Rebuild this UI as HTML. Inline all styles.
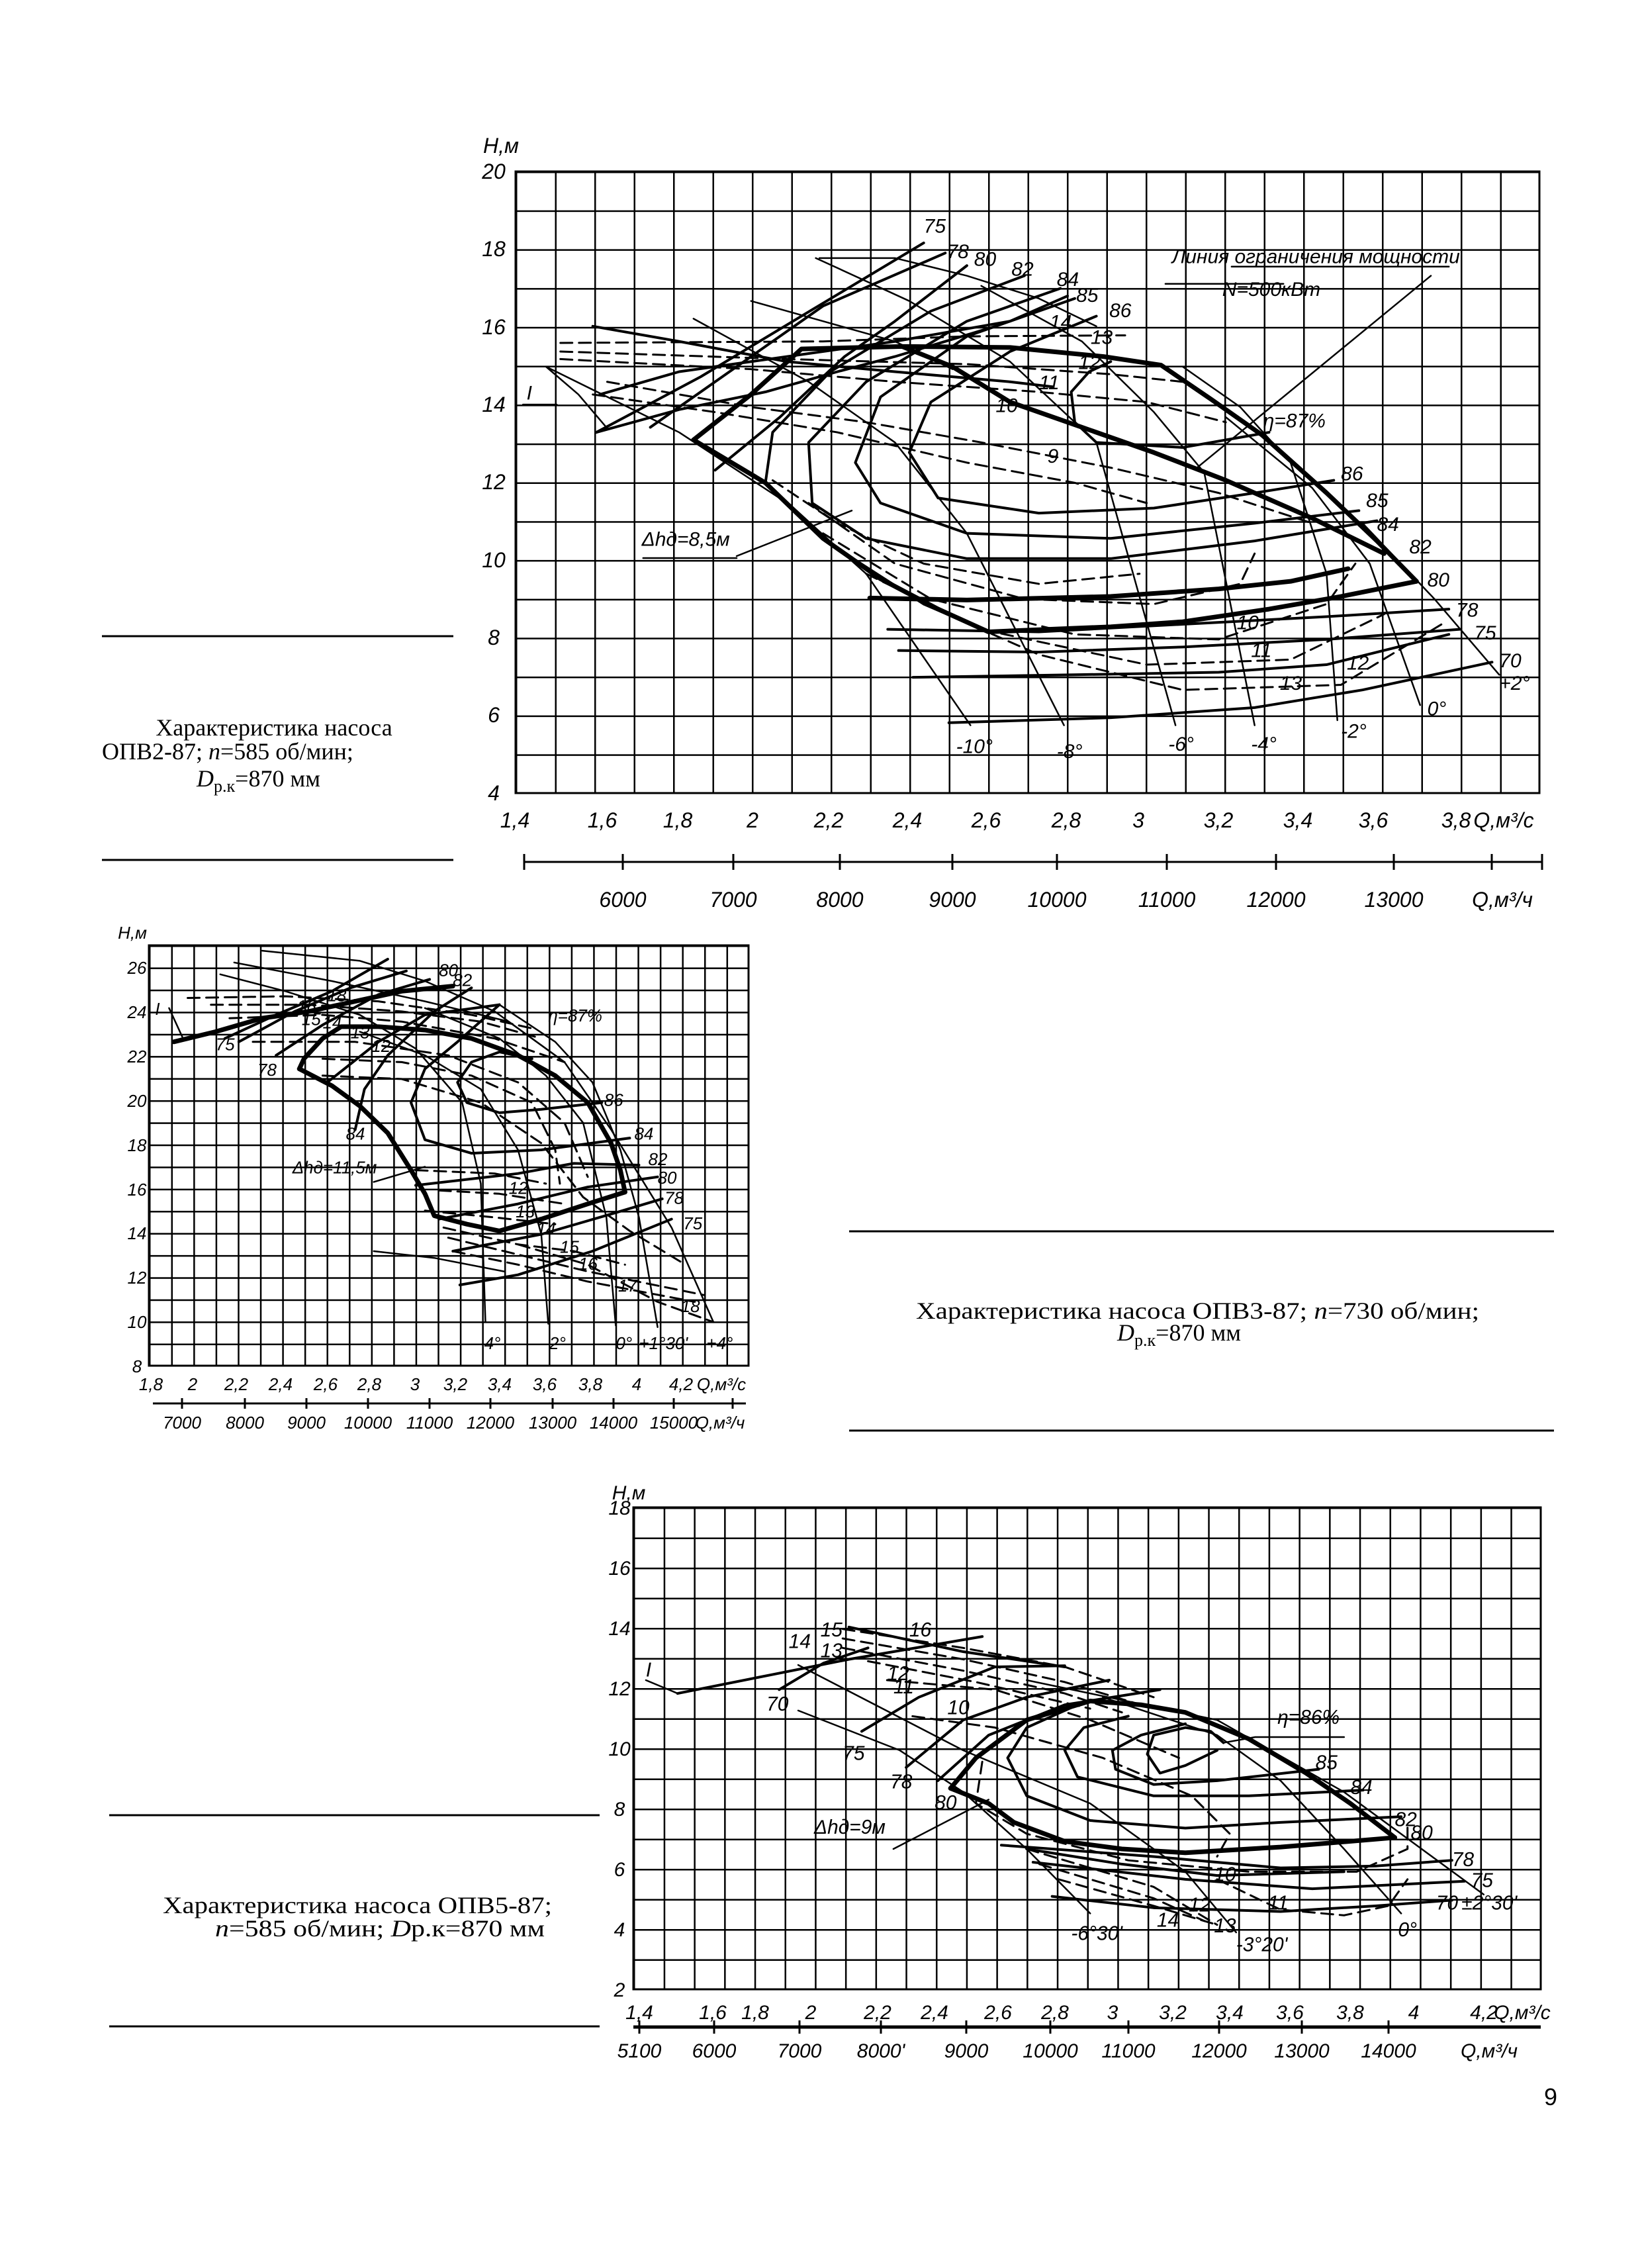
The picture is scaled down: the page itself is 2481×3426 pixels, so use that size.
<!DOCTYPE html>
<html><head><meta charset="utf-8"><style>
html,body{margin:0;padding:0;background:#fff}
svg{display:block}
.l{font-family:"Liberation Sans Narrow","Liberation Sans",sans-serif;font-style:italic;fill:#000}
.c{font-family:"Liberation Serif",serif;fill:#000;font-size:36px}
.g path,.g polyline{vector-effect:non-scaling-stroke;fill:none;stroke:#000;stroke-linejoin:round;stroke-linecap:round}
.t{stroke-width:2.5px}.m{stroke-width:4px}.k{stroke-width:7px}.d{stroke-width:3px;stroke-dasharray:18 10}
</style></head><body>
<svg width="2481" height="3426" viewBox="0 0 2481 3426" xmlns="http://www.w3.org/2000/svg">
<defs>
<pattern id="g1" x="779" y="259" width="59.5" height="58.69" patternUnits="userSpaceOnUse"><path d="M0 0H59.5M0 0V58.69" stroke="#000" stroke-width="5" fill="none"/></pattern>
<pattern id="g2" x="225" y="1428" width="33.56" height="33.42" patternUnits="userSpaceOnUse"><path d="M0 0H33.56M0 0V33.42" stroke="#000" stroke-width="5" fill="none"/></pattern>
<pattern id="g3" x="957" y="2277" width="45.7" height="45.5" patternUnits="userSpaceOnUse"><path d="M0 0H45.7M0 0V45.5" stroke="#000" stroke-width="5" fill="none"/></pattern>
</defs>
<rect width="2481" height="3426" fill="#fff"/>

<!-- ===== CHART 1 ===== -->
<rect x="779" y="259" width="1547" height="939" fill="url(#g1)"/>
<rect x="779" y="259" width="1547" height="939" fill="none" stroke="#000" stroke-width="3"/>
<g class="l" font-size="32" text-anchor="middle">
<text x="757" y="231">H,м</text>
<text x="746" y="270">20</text><text x="746" y="387">18</text><text x="746" y="505">16</text><text x="746" y="622">14</text><text x="746" y="739">12</text><text x="746" y="857">10</text><text x="746" y="974">8</text><text x="746" y="1091">6</text><text x="746" y="1209">4</text>
<text x="778" y="1250">1,4</text><text x="910" y="1250">1,6</text><text x="1024" y="1250">1,8</text><text x="1137" y="1250">2</text><text x="1252" y="1250">2,2</text><text x="1371" y="1250">2,4</text><text x="1490" y="1250">2,6</text><text x="1611" y="1250">2,8</text><text x="1720" y="1250">3</text><text x="1841" y="1250">3,2</text><text x="1961" y="1250">3,4</text><text x="2075" y="1250">3,6</text><text x="2200" y="1250">3,8</text><text x="2272" y="1250">Q,м³/с</text>
<text x="941" y="1370">6000</text><text x="1108" y="1370">7000</text><text x="1269" y="1370">8000</text><text x="1439" y="1370">9000</text><text x="1597" y="1370">10000</text><text x="1763" y="1370">11000</text><text x="1928" y="1370">12000</text><text x="2106" y="1370">13000</text><text x="2270" y="1370">Q,м³/ч</text>
</g>
<path d="M792 1302H2330M792 1290V1314M941 1290V1314M1108 1290V1314M1269 1290V1314M1439 1290V1314M1597 1290V1314M1763 1290V1314M1928 1290V1314M2106 1290V1314M2254 1290V1314M2330 1290V1314" stroke="#000" stroke-width="3" fill="none"/>
<g class="g" transform="matrix(1.087,0,0,0.763,700,180)">
<path class="k" d="M320 635L400 545L470 455L610 450L760 452L890 470L970 487L1040 555L1110 625L1200 740L1270 835L1325 915"/>
<path class="k" d="M320 635L420 720L500 830L580 910L660 970L730 1015L900 1005L1000 995L1120 970L1220 945L1325 915"/>
<path class="k" d="M610 450L680 490L760 560L870 615L960 660L1060 715L1180 790L1280 860"/>
<path class="k" d="M565 948L700 952L900 945L1050 930L1150 915L1230 890"/>
<path class="m" d="M185 620L330 510L470 390L640 245"/>
<path class="m" d="M260 610L370 500L500 370L670 265"/>
<path class="m" d="M350 695L440 590L530 470L600 400L700 290"/>
<path class="m" d="M780 310L650 380L510 500L430 620L420 720L520 850L640 960L730 1015"/>
<path class="m" d="M830 335L700 400L560 520L480 640L485 760L560 830L700 870L900 870L1100 835L1270 795"/>
<path class="m" d="M850 355L700 430L580 550L545 680L580 760L700 820L900 830L1100 800L1245 775"/>
<path class="m" d="M880 390L760 460L650 560L620 660L660 750L800 780L960 770L1100 740L1210 715"/>
<path class="m" d="M1120 620L1000 650L880 640L850 600L845 540L870 500L900 480"/>
<path class="m" d="M590 1010L800 1015L1000 1000L1200 985L1370 970"/>
<path class="m" d="M605 1052L800 1055L1000 1045L1200 1030L1385 1010"/>
<path class="m" d="M625 1105L850 1100L1050 1095L1200 1080L1370 1020"/>
<path class="m" d="M675 1195L900 1185L1100 1165L1250 1130L1430 1075"/>
<path class="m" d="M190 545L300 500L450 470L600 440L760 400L840 350"/>
<path class="m" d="M185 620L300 575L420 540L520 500L600 470L740 410"/>
<path class="m" d="M180 410L300 440L450 480L600 500L760 520L820 530"/>
<path class="t" d="M495 275L600 275L700 310L800 355L880 410"/>
<path class="t" d="M400 360L500 400L600 440L680 495"/>
<path class="t" d="M115 490L300 620L450 760L560 900L705 1200"/>
<path class="t" d="M320 395L480 520L600 640L700 820L835 1200"/>
<path class="t" d="M490 275L620 360L760 480L880 640L990 1200"/>
<path class="t" d="M720 330L860 440L960 580L1030 700L1100 1200"/>
<path class="t" d="M1000 490L1080 570L1150 680L1200 900L1215 1190"/>
<path class="t" d="M1060 590L1180 730L1260 880L1330 1160"/>
<path class="t" d="M1250 800L1350 950L1440 1100"/>
<path class="t" d="M115 490L160 545L200 612"/>
<path class="t" d="M1345 310L1020 690"/>
<path class="t" d="M380 865L540 775"/>
<path class="t" d="M1068 292H1370M976 326H1140M83 565H130M250 869H380"/>
<path class="d" d="M135 443L500 440L700 430L920 428"/>
<path class="d" d="M135 460L450 475L700 485L900 505L1000 520"/>
<path class="d" d="M135 475L400 495L600 520L800 540L950 560L1060 600"/>
<path class="d" d="M180 545L350 580L520 620L700 680L850 720L950 760"/>
<path class="d" d="M200 520L400 570L560 600L720 640L900 690L1050 740L1180 800"/>
<path class="d" d="M430 715L520 800L640 880L800 920L940 900"/>
<path class="d" d="M480 760L600 880L780 950L960 960L1080 920L1100 860"/>
<path class="d" d="M500 820L650 950L850 1020L1050 1030L1200 960L1240 880"/>
<path class="d" d="M560 900L720 1010L950 1080L1150 1070L1280 980"/>
<path class="d" d="M640 960L800 1060L1000 1130L1220 1120L1360 1000"/>
</g>
<g class="l" font-size="30" transform="matrix(1.087,0,0,0.763,700,180)">
<text transform="matrix(0.92,0,0,1.31,640,225)">75</text>
<text transform="matrix(0.92,0,0,1.31,672,275)">78</text>
<text transform="matrix(0.92,0,0,1.31,710,290)">80</text>
<text transform="matrix(0.92,0,0,1.31,762,310)">82</text>
<text transform="matrix(0.92,0,0,1.31,825,330)">84</text>
<text transform="matrix(0.92,0,0,1.31,852,362)">85</text>
<text transform="matrix(0.92,0,0,1.31,898,392)">86</text>
<text transform="matrix(0.92,0,0,1.31,815,415)">14</text>
<text transform="matrix(0.92,0,0,1.31,872,445)">13</text>
<text transform="matrix(0.92,0,0,1.31,855,495)">12</text>
<text transform="matrix(0.92,0,0,1.31,800,535)">11</text>
<text transform="matrix(0.92,0,0,1.31,740,580)">10</text>
<text transform="matrix(0.92,0,0,1.31,812,680)">9</text>
<text transform="matrix(0.92,0,0,1.31,1075,1010)">10</text>
<text transform="matrix(0.92,0,0,1.31,1095,1065)">11</text>
<text transform="matrix(0.92,0,0,1.31,1228,1090)">12</text>
<text transform="matrix(0.92,0,0,1.31,1135,1130)">13</text>
<text transform="matrix(0.92,0,0,1.31,1220,715)">86</text>
<text transform="matrix(0.92,0,0,1.31,1255,768)">85</text>
<text transform="matrix(0.92,0,0,1.31,1270,815)">84</text>
<text transform="matrix(0.92,0,0,1.31,1315,860)">82</text>
<text transform="matrix(0.92,0,0,1.31,1340,925)">80</text>
<text transform="matrix(0.92,0,0,1.31,1380,985)">78</text>
<text transform="matrix(0.92,0,0,1.31,1405,1030)">75</text>
<text transform="matrix(0.92,0,0,1.31,1440,1085)">70</text>
<text transform="matrix(0.92,0,0,1.31,1440,1130)">+2°</text>
<text transform="matrix(0.92,0,0,1.31,1340,1180)">0°</text>
<text transform="matrix(0.92,0,0,1.31,1220,1225)">-2°</text>
<text transform="matrix(0.92,0,0,1.31,1095,1250)">-4°</text>
<text transform="matrix(0.92,0,0,1.31,980,1250)">-6°</text>
<text transform="matrix(0.92,0,0,1.31,825,1265)">-8°</text>
<text transform="matrix(0.92,0,0,1.31,685,1255)">-10°</text>
<text transform="matrix(0.92,0,0,1.31,88,555)">I</text>
<text transform="matrix(0.92,0,0,1.31,1112,610)">η=87%</text>
<text transform="matrix(0.92,0,0,1.31,248,845)">Δhд=8,5м</text>
<text transform="matrix(0.92,0,0,1.31,985,285)">Линия ограничения мощности</text>
<text transform="matrix(0.92,0,0,1.31,1055,350)">N=500кВт</text>
</g>

<!-- captions -->
<path d="M154 961H685M154 1299H685" stroke="#000" stroke-width="3"/>
<text class="c" x="414" y="1111" text-anchor="middle">Характеристика насоса</text>
<text class="c" x="154" y="1147">ОПВ2-87;    <tspan font-style="italic">n</tspan>=585    об/мин;</text>
<text class="c" x="297" y="1188"><tspan font-style="italic">D</tspan><tspan font-size="26" dy="8">р.к</tspan><tspan dy="-8">=870 мм</tspan></text>

<!-- ===== CHART 2 ===== -->
<rect x="225" y="1428" width="906" height="635" fill="url(#g2)"/>
<rect x="225" y="1428" width="906" height="635" fill="none" stroke="#000" stroke-width="3"/>
<g class="l" font-size="26" text-anchor="middle">
<text x="200" y="1418">H,м</text>
<text x="207" y="1471">26</text><text x="207" y="1538">24</text><text x="207" y="1605">22</text><text x="207" y="1672">20</text><text x="207" y="1739">18</text><text x="207" y="1806">16</text><text x="207" y="1872">14</text><text x="207" y="1939">12</text><text x="207" y="2006">10</text><text x="207" y="2073">8</text>
<text x="228" y="2100">1,8</text><text x="291" y="2100">2</text><text x="357" y="2100">2,2</text><text x="424" y="2100">2,4</text><text x="492" y="2100">2,6</text><text x="558" y="2100">2,8</text><text x="627" y="2100">3</text><text x="688" y="2100">3,2</text><text x="755" y="2100">3,4</text><text x="823" y="2100">3,6</text><text x="892" y="2100">3,8</text><text x="962" y="2100">4</text><text x="1029" y="2100">4,2</text><text x="1090" y="2100">Q,м³/с</text>
<text x="275" y="2158">7000</text><text x="370" y="2158">8000</text><text x="463" y="2158">9000</text><text x="556" y="2158">10000</text><text x="649" y="2158">11000</text><text x="741" y="2158">12000</text><text x="835" y="2158">13000</text><text x="927" y="2158">14000</text><text x="1018" y="2158">15000</text><text x="1088" y="2158">Q,м³/ч</text>
</g>
<path d="M231 2120H1127M275 2112V2128M370 2112V2128M463 2112V2128M556 2112V2128M649 2112V2128M741 2112V2128M835 2112V2128M927 2112V2128M1018 2112V2128M1107 2112V2128" stroke="#000" stroke-width="3" fill="none"/>
<g class="g" transform="matrix(0.703,0,0,0.51,150,1380)">
<path class="k" d="M430 460L440 430L480 370L520 335L600 335L700 345L800 370L900 420L980 480L1050 560L1100 680L1120 760L1130 825"/>
<path class="k" d="M430 460L500 510L560 570L620 650L670 760L700 830L720 895L790 920L860 940L950 905L1050 860L1130 825"/>
<path class="k" d="M160 380L250 350L350 310L450 290L550 260L650 230L760 215"/>
<path class="m" d="M1080 560L950 580L860 590L790 560L770 500L800 440L860 410L930 430"/>
<path class="m" d="M1140 665L950 700L800 710L700 670L670 560L700 460L770 380L860 270"/>
<path class="m" d="M550 640L570 520L620 420L720 290L800 220"/>
<path class="m" d="M680 805L900 770L1020 740L1160 745"/>
<path class="m" d="M730 905L900 860L1050 810L1200 780"/>
<path class="m" d="M760 1000L950 950L1100 890L1210 845"/>
<path class="m" d="M775 1100L900 1070L1060 1000L1230 905"/>
<path class="m" d="M270 370L380 300L500 230L620 135"/>
<path class="m" d="M300 380L420 290L540 220L660 170"/>
<path class="m" d="M380 420L480 330L600 240L710 195"/>
<path class="m" d="M490 500L600 380L700 300L860 270"/>
<path class="t" d="M350 110L560 140L700 200L850 290L1000 440L1100 640L1230 930L1320 1210"/>
<path class="t" d="M290 145L500 200L700 260L880 320L1000 440"/>
<path class="t" d="M150 280L180 370"/>
<path class="t" d="M260 180L400 230L560 300L680 400L780 560L820 800L830 1210"/>
<path class="t" d="M560 350L700 420L820 520L900 700L950 950L965 1215"/>
<path class="t" d="M700 280L860 370L960 480L1040 620L1090 900L1110 1220"/>
<path class="t" d="M860 270L980 380L1060 500L1120 700L1160 900L1200 1225"/>
<path class="t" d="M590 1000L720 1020L870 1060"/>
<path class="t" d="M590 795L700 750"/>
<path class="d" d="M190 250L400 245L600 260L800 300L930 340"/>
<path class="d" d="M240 270L450 270L650 290L820 320L950 370"/>
<path class="d" d="M280 310L480 300L650 320L850 370L1000 440"/>
<path class="d" d="M330 380L550 380L750 420L900 500L1000 620L1050 780"/>
<path class="d" d="M480 430L650 440L800 480L930 560L980 700L990 800"/>
<path class="d" d="M480 480L650 490L820 560L950 680L1040 840L1140 940L1260 1040"/>
<path class="d" d="M680 760L850 770L960 800"/>
<path class="d" d="M730 820L860 830L1000 860"/>
<path class="d" d="M700 880L850 900L980 920"/>
<path class="d" d="M740 930L900 980L1020 1000L1130 1040"/>
<path class="d" d="M750 960L900 1010L1050 1060L1300 1130"/>
<path class="d" d="M760 1000L900 1040L1050 1090L1280 1150"/>
<path class="d" d="M900 980L1050 1040L1200 1150L1320 1210"/>
</g>
<g class="l" font-size="26" transform="matrix(0.703,0,0,0.51,150,1380)">
<text transform="matrix(1.42,0,0,1.96,730,185)">80</text>
<text transform="matrix(1.42,0,0,1.96,760,215)">82</text>
<text transform="matrix(1.42,0,0,1.96,490,260)">18</text>
<text transform="matrix(1.42,0,0,1.96,425,292)">16</text>
<text transform="matrix(1.42,0,0,1.96,435,330)">15</text>
<text transform="matrix(1.42,0,0,1.96,480,340)">14</text>
<text transform="matrix(1.42,0,0,1.96,540,370)">13</text>
<text transform="matrix(1.42,0,0,1.96,585,410)">12</text>
<text transform="matrix(1.42,0,0,1.96,250,405)">75</text>
<text transform="matrix(1.42,0,0,1.96,340,480)">78</text>
<text transform="matrix(1.42,0,0,1.96,530,670)">84</text>
<text transform="matrix(1.42,0,0,1.96,120,300)">I</text>
<text transform="matrix(1.42,0,0,1.96,965,320)">η=87%</text>
<text transform="matrix(1.42,0,0,1.96,1085,570)">86</text>
<text transform="matrix(1.42,0,0,1.96,1150,670)">84</text>
<text transform="matrix(1.42,0,0,1.96,1180,745)">82</text>
<text transform="matrix(1.42,0,0,1.96,1200,800)">80</text>
<text transform="matrix(1.42,0,0,1.96,1215,860)">78</text>
<text transform="matrix(1.42,0,0,1.96,1255,935)">75</text>
<text transform="matrix(1.42,0,0,1.96,880,830)">12</text>
<text transform="matrix(1.42,0,0,1.96,895,900)">13</text>
<text transform="matrix(1.42,0,0,1.96,940,950)">14</text>
<text transform="matrix(1.42,0,0,1.96,990,1005)">15</text>
<text transform="matrix(1.42,0,0,1.96,1030,1055)">16</text>
<text transform="matrix(1.42,0,0,1.96,1115,1120)">17</text>
<text transform="matrix(1.42,0,0,1.96,1250,1180)">18</text>
<text transform="matrix(1.42,0,0,1.96,415,770)">Δhд=11,5м</text>
<text transform="matrix(1.42,0,0,1.96,815,1290)">-4°</text>
<text transform="matrix(1.42,0,0,1.96,955,1290)">-2°</text>
<text transform="matrix(1.42,0,0,1.96,1110,1290)">0°</text>
<text transform="matrix(1.42,0,0,1.96,1160,1290)">+1°30'</text>
<text transform="matrix(1.42,0,0,1.96,1305,1290)">+4°</text>
</g>
<path d="M1283 1860H2348M1283 2161H2348" stroke="#000" stroke-width="3"/>
<text class="c" x="1384" y="1992" textLength="851" lengthAdjust="spacingAndGlyphs">Характеристика насоса ОПВ3-87; <tspan font-style="italic">n</tspan>=730 об/мин;</text>
<text class="c" x="1688" y="2025"><tspan font-style="italic">D</tspan><tspan font-size="26" dy="8">р.к</tspan><tspan dy="-8">=870 мм</tspan></text>

<!-- ===== CHART 3 ===== -->
<rect x="957" y="2277" width="1371" height="728" fill="url(#g3)"/>
<rect x="957" y="2277" width="1371" height="728" fill="none" stroke="#000" stroke-width="3"/>
<g class="l" font-size="30" text-anchor="middle">
<text x="950" y="2265">H,м</text>
<text x="936" y="2288">18</text><text x="936" y="2379">16</text><text x="936" y="2470">14</text><text x="936" y="2561">12</text><text x="936" y="2652">10</text><text x="936" y="2743">8</text><text x="936" y="2834">6</text><text x="936" y="2925">4</text><text x="936" y="3016">2</text>
<text x="966" y="3050">1,4</text><text x="1077" y="3050">1,6</text><text x="1141" y="3050">1,8</text><text x="1225" y="3050">2</text><text x="1326" y="3050">2,2</text><text x="1412" y="3050">2,4</text><text x="1508" y="3050">2,6</text><text x="1594" y="3050">2,8</text><text x="1681" y="3050">3</text><text x="1772" y="3050">3,2</text><text x="1858" y="3050">3,4</text><text x="1949" y="3050">3,6</text><text x="2040" y="3050">3,8</text><text x="2136" y="3050">4</text><text x="2242" y="3050">4,2</text><text x="2300" y="3050">Q,м³/с</text>
<text x="966" y="3108">5100</text><text x="1079" y="3108">6000</text><text x="1208" y="3108">7000</text><text x="1331" y="3108">8000'</text><text x="1460" y="3108">9000</text><text x="1587" y="3108">10000</text><text x="1705" y="3108">11000</text><text x="1842" y="3108">12000</text><text x="1967" y="3108">13000</text><text x="2098" y="3108">14000</text><text x="2250" y="3108">Q,м³/ч</text>
</g>
<path d="M957 3062H2328" stroke="#000" stroke-width="5"/>
<path d="M966 3052V3072M1079 3052V3072M1208 3052V3072M1331 3052V3072M1460 3052V3072M1587 3052V3072M1705 3052V3072M1842 3052V3072M1967 3052V3072M2098 3052V3072" stroke="#000" stroke-width="3"/>
<g class="g" transform="matrix(0.959,0,0,0.573,880,2220)">
<path class="k" d="M580 840L620 760L700 660L800 610L880 620L950 640L1050 710L1140 800L1210 880L1280 970"/>
<path class="k" d="M580 840L640 880L680 930L760 980L850 1000L950 1010L1100 995L1280 970"/>
<path class="m" d="M1290 915L1100 930L950 945L800 925L700 860L670 760L700 680L780 620"/>
<path class="m" d="M1230 845L1050 860L900 860L780 810L760 740L790 680L860 650"/>
<path class="m" d="M1160 790L1000 820L900 830L840 790L835 740L880 700L950 670"/>
<path class="m" d="M1010 720L990 690L950 680L900 700L890 750L910 800L950 780L1000 740"/>
<path class="m" d="M150 590L300 540L420 500L630 440"/>
<path class="m" d="M310 580L380 510L450 470"/>
<path class="m" d="M440 690L530 600L650 520L760 517"/>
<path class="m" d="M510 785L600 660L700 600L830 555"/>
<path class="m" d="M560 820L640 700L760 620L910 580"/>
<path class="m" d="M660 990L900 1020L1100 1050L1250 1045L1370 1030"/>
<path class="m" d="M710 1035L950 1080L1150 1105L1390 1085"/>
<path class="m" d="M740 1125L900 1155L1100 1165L1250 1150L1370 1135"/>
<path class="m" d="M700 1000L850 1040L1000 1070L1200 1060"/>
<path class="m" d="M420 415L600 480L760 520"/>
<path class="t" d="M340 635L500 740L600 850L700 1000L800 1170"/>
<path class="t" d="M340 515L600 740L800 880L950 1060L1030 1220"/>
<path class="t" d="M820 600L1000 700L1100 820L1200 1000L1290 1170"/>
<path class="t" d="M700 555L1000 660L1200 850L1420 1120"/>
<path class="t" d="M100 555L150 590"/>
<path class="t" d="M490 1000L640 870"/>
<path class="t" d="M1010 720L1060 705L1200 705"/>
<path class="d" d="M410 420L600 470L760 520L900 600"/>
<path class="d" d="M410 445L600 500L760 560L880 620"/>
<path class="d" d="M410 470L600 530L760 590L850 640"/>
<path class="d" d="M450 505L620 560L800 630"/>
<path class="d" d="M480 555L650 580L800 660L940 760"/>
<path class="d" d="M520 650L650 680L820 760L960 860L1020 960L1000 1020"/>
<path class="d" d="M630 770L620 880L700 960L860 1030L1050 1060L1220 1060L1300 1000L1300 940"/>
<path class="d" d="M700 1000L900 1100L1000 1200"/>
<path class="d" d="M720 1040L900 1130L980 1190"/>
<path class="d" d="M750 1080L900 1150L1000 1200"/>
<path class="d" d="M1000 1080L1100 1160L1200 1175L1270 1150L1300 1080"/>
</g>
<g class="l" font-size="30" transform="matrix(0.959,0,0,0.573,880,2220)">
<text transform="matrix(1.04,0,0,1.75,375,440)">15</text>
<text transform="matrix(1.04,0,0,1.75,325,470)">14</text>
<text transform="matrix(1.04,0,0,1.75,375,495)">13</text>
<text transform="matrix(1.04,0,0,1.75,515,440)">16</text>
<text transform="matrix(1.04,0,0,1.75,480,555)">12</text>
<text transform="matrix(1.04,0,0,1.75,490,590)">11</text>
<text transform="matrix(1.04,0,0,1.75,575,645)">10</text>
<text transform="matrix(1.04,0,0,1.75,100,545)">I</text>
<text transform="matrix(1.04,0,0,1.75,290,635)">70</text>
<text transform="matrix(1.04,0,0,1.75,410,765)">75</text>
<text transform="matrix(1.04,0,0,1.75,485,840)">78</text>
<text transform="matrix(1.04,0,0,1.75,555,895)">80</text>
<text transform="matrix(1.04,0,0,1.75,1095,670)">η=86%</text>
<text transform="matrix(1.04,0,0,1.75,1155,790)">85</text>
<text transform="matrix(1.04,0,0,1.75,1210,855)">84</text>
<text transform="matrix(1.04,0,0,1.75,1280,940)">82</text>
<text transform="matrix(1.04,0,0,1.75,1305,975)">80</text>
<text transform="matrix(1.04,0,0,1.75,1370,1045)">78</text>
<text transform="matrix(1.04,0,0,1.75,1400,1100)">75</text>
<text transform="matrix(1.04,0,0,1.75,1345,1160)">70</text>
<text transform="matrix(1.04,0,0,1.75,1385,1160)">±2°30'</text>
<text transform="matrix(1.04,0,0,1.75,1285,1230)">0°</text>
<text transform="matrix(1.04,0,0,1.75,1030,1270)">-3°20'</text>
<text transform="matrix(1.04,0,0,1.75,770,1240)">-6°30'</text>
<text transform="matrix(1.04,0,0,1.75,995,1085)">10</text>
<text transform="matrix(1.04,0,0,1.75,1080,1160)">11</text>
<text transform="matrix(1.04,0,0,1.75,955,1165)">12</text>
<text transform="matrix(1.04,0,0,1.75,995,1220)">13</text>
<text transform="matrix(1.04,0,0,1.75,905,1205)">14</text>
<text transform="matrix(1.04,0,0,1.75,365,960)">Δhд=9м</text>
</g>
<path d="M165 2742H906M165 3061H906" stroke="#000" stroke-width="3"/>
<text class="c" x="246" y="2890" textLength="588" lengthAdjust="spacingAndGlyphs">Характеристика насоса ОПВ5-87;</text>
<text class="c" x="325" y="2925" textLength="498" lengthAdjust="spacingAndGlyphs"><tspan font-style="italic">n</tspan>=585 об/мин; <tspan font-style="italic">D</tspan>р.к=870 мм</text>

<text x="2343" y="3180" font-family="Liberation Sans, sans-serif" font-size="36" text-anchor="middle">9</text>
</svg>
</body></html>
